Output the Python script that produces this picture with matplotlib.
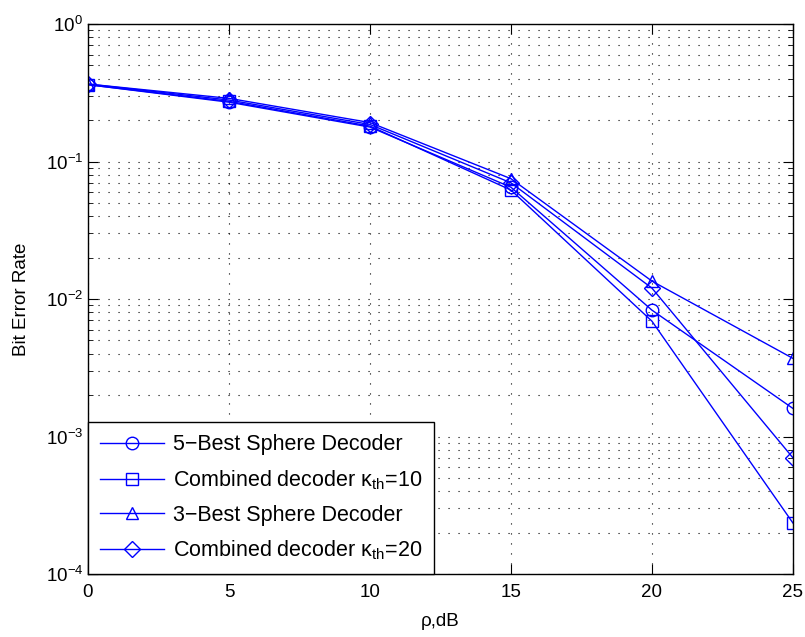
import numpy as np
import matplotlib
matplotlib.use('Agg')
import matplotlib.pyplot as plt
from matplotlib.ticker import LogLocator, NullFormatter

plt.rcParams['font.family'] = ['Liberation Sans', 'DejaVu Sans']
plt.rcParams['mathtext.fontset'] = 'custom'
plt.rcParams['mathtext.rm'] = 'Liberation Sans'
plt.rcParams['mathtext.it'] = 'Liberation Sans'

# SNR points (dB)
snr = [0, 5, 10, 15, 20, 25]

# bit error rate per decoder
ber_5best = [0.362, 0.270, 0.178, 0.065, 0.0083, 0.00160]
ber_comb10 = [0.362, 0.274, 0.181, 0.062, 0.0069, 0.000235]
ber_3best = [0.366, 0.288, 0.192, 0.075, 0.0135, 0.0037]
ber_comb20 = [0.366, 0.280, 0.186, 0.070, 0.0120, 0.00070]

labels = ['5\u2212Best Sphere Decoder',
          r'Combined decoder $\mathrm{\kappa_{th}}$=10',
          '3\u2212Best Sphere Decoder',
          r'Combined decoder $\mathrm{\kappa_{th}}$=20']
markers = ['o', 's', '^', 'D']
series = [ber_5best, ber_comb10, ber_3best, ber_comb20]

fig = plt.figure(figsize=(8.05, 6.37), dpi=100)
ax = fig.add_axes([0.1093, 0.0989, 0.8757, 0.8634])

for ys, m, lab in zip(series, markers, labels):
    ms = 9 if m != 'D' else 8
    ax.semilogy(snr, ys, color='blue', marker=m, markersize=ms,
                markerfacecolor='none', markeredgecolor='blue',
                linewidth=1.0, label=lab)

ax.set_xlim(0, 25)
ax.set_ylim(1e-4, 1)
ax.set_xticks([0, 5, 10, 15, 20, 25])
ax.yaxis.set_major_locator(LogLocator(base=10, numticks=10))
ax.yaxis.set_minor_locator(LogLocator(base=10, subs=np.arange(2, 10), numticks=20))
ax.yaxis.set_minor_formatter(NullFormatter())

# matlab-style sparse dotted grid
ax.grid(True, which='major', linestyle=(0, (1, 8)), color='black', linewidth=0.8)
ax.grid(True, which='minor', axis='y', linestyle=(0, (1, 8)), color='black', linewidth=0.8)

ax.tick_params(which='both', direction='in', top=True, right=True, labelsize=13.5)
ax.tick_params(which='major', length=7)
ax.tick_params(which='minor', length=3.5)
ax.tick_params(axis='x', pad=7)
for sp in ax.spines.values():
    sp.set_linewidth(1.0)

ax.set_xlabel('\u03c1,dB', fontsize=13.5, labelpad=9)
ax.set_ylabel('Bit Error Rate', fontsize=13.5, labelpad=11)

leg = ax.legend(loc='lower left', fontsize=15.5, numpoints=1, handlelength=3.0,
                handletextpad=0.4, borderpad=0.55,
                fancybox=False, framealpha=1, edgecolor='black',
                borderaxespad=0, labelspacing=0.6)
leg.get_frame().set_linewidth(1.0)

fig.savefig('out.png', dpi=100)
